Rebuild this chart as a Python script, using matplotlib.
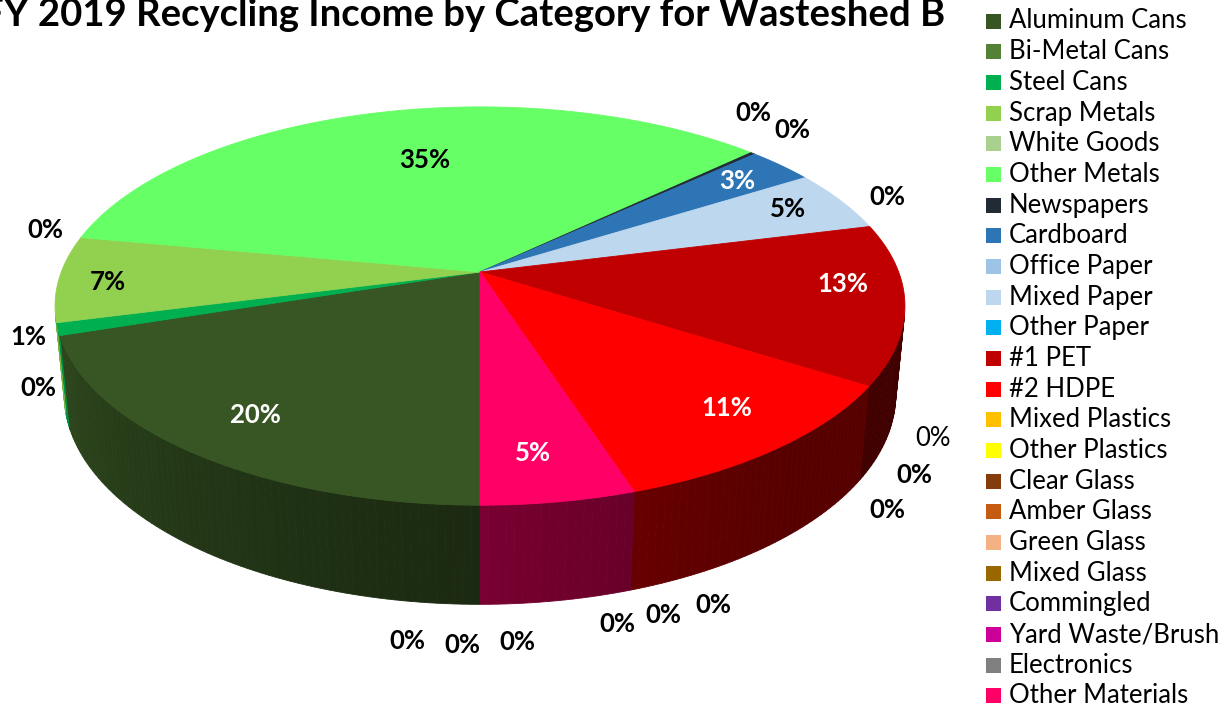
import numpy as np
import matplotlib
matplotlib.use('Agg')
import matplotlib.pyplot as plt
from matplotlib.patches import Polygon, Rectangle
from matplotlib.colors import to_rgb

plt.rcParams['font.family'] = ['Lato', 'DejaVu Sans']

titulo = 'FY 2019 Recycling Income by Category for Wasteshed B'

categorias = ['Aluminum Cans', 'Bi-Metal Cans', 'Steel Cans', 'Scrap Metals',
              'White Goods', 'Other Metals', 'Newspapers', 'Cardboard',
              'Office Paper', 'Mixed Paper', 'Other Paper', '#1 PET',
              '#2 HDPE', 'Mixed Plastics', 'Other Plastics', 'Clear Glass',
              'Amber Glass', 'Green Glass', 'Mixed Glass', 'Commingled',
              'Yard Waste/Brush', 'Electronics', 'Other Materials']

# porcentaje del ingreso por categoria
valores = [20, 0, 1, 7, 0, 35, 0.2, 3, 0, 5, 0, 13, 11,
           0, 0, 0, 0, 0, 0, 0, 0, 0, 5]

colores = ['#375623', '#548235', '#00B050', '#92D050', '#A9D08E', '#66FF66',
           '#222A35', '#2E75B6', '#9DC3E6', '#BDD7EE', '#00B0F0', '#C00000',
           '#FF0000', '#FFC000', '#FFFF00', '#843C0C', '#C55A11', '#F4B183',
           '#996600', '#7030A0', '#CC0099', '#808080', '#FF0066']

# posicion (px) de cada etiqueta y su color
pos_etiquetas = [(255, 415), (38, 388), (28, 337), (108, 282), (45, 230),
                 (425, 160), (753, 113), (737, 181), (792, 130), (788, 209),
                 (887, 197), (843, 284), (727, 408), (933, 439), (914, 475),
                 (887, 510), (713, 605), (663, 615), (617, 624), (517, 642),
                 (462, 645), (407, 641), (533, 453)]
etiqueta_blanca = {'Aluminum Cans', 'Cardboard', '#1 PET', '#2 HDPE', 'Other Materials'}
etiqueta_normal = {'Mixed Plastics'}

# camara de la vista 3D
CX, CY = 480, 272
F, L = 2173.0, 5.19
alfa = np.radians(27.5)
H = 0.2405


def proyectar(theta, h, r=1.0):
    t = np.radians(theta)
    u = r * np.sin(t)
    v = r * np.cos(t)
    yc = h * np.cos(alfa) + v * np.sin(alfa)
    zc = L + v * np.cos(alfa) - h * np.sin(alfa)
    return CX + F * u / zc, CY - F * yc / zc


def sombra(theta):
    # las caras laterales se oscurecen hacia la derecha
    theta = theta % 360
    s = max(0.0, (theta - 140) / 117.0)
    return 0.34 + 0.5 * s ** 1.2


fig = plt.figure(figsize=(12.25, 7.08), dpi=100)
ax = fig.add_axes([0, 0, 1, 1])
ax.set_xlim(0, 1225)
ax.set_ylim(708, 0)
ax.axis('off')

total = sum(valores)
angulos = 180 + 360 * np.concatenate([[0], np.cumsum(valores)]) / total
# tramo del borde que se ve de frente (dos vueltas porque los angulos pasan de 360)
visibles = [(102.0, 258.0), (462.0, 618.0)]

# caras laterales
for i, c in enumerate(colores):
    a0, a1 = angulos[i], angulos[i + 1]
    if a1 - a0 <= 0:
        continue
    base = np.array(to_rgb(c))
    for v0, v1 in visibles:
        lo, hi = max(a0, v0), min(a1, v1)
        if hi <= lo:
            continue
        n = max(2, int(np.ceil(hi - lo)) + 1)
        ts = np.linspace(lo, hi, n)
        for ta, tb in zip(ts[:-1], ts[1:]):
            xa, ya = proyectar(ta, 0)
            xb, yb = proyectar(tb, 0)
            xbb, ybb = proyectar(tb, -H)
            xab, yab = proyectar(ta, -H)
            col = base * sombra((ta + tb) / 2)
            ax.add_patch(Polygon([(xa, ya), (xb, yb), (xbb, ybb), (xab, yab)],
                                 closed=True, fc=col, ec=col, lw=0.6))

# cara superior
for i, c in enumerate(colores):
    a0, a1 = angulos[i], angulos[i + 1]
    if a1 - a0 <= 0:
        continue
    ts = np.linspace(a0, a1, max(2, int((a1 - a0) * 2) + 1))
    xs, ys = proyectar(ts, 0)
    pts = [(CX, CY)] + list(zip(xs, ys))
    ax.add_patch(Polygon(pts, closed=True, fc=c, ec=c, lw=0.6))

# etiquetas de porcentaje
for i, nombre in enumerate(categorias):
    pct = '{:.0f}%'.format(100 * valores[i] / total)
    x, y = pos_etiquetas[i]
    ax.text(x, y, pct, ha='center', va='center', fontsize=18.5,
            color='white' if nombre in etiqueta_blanca else 'black',
            fontweight='normal' if nombre in etiqueta_normal else 'bold')

# titulo
ax.text(945, 26, titulo, ha='right', va='baseline', fontsize=27.5,
        fontweight='bold', color='black')

# leyenda
for i, (nombre, c) in enumerate(zip(categorias, colores)):
    yc = 21 + i * 30.68
    ax.add_patch(Rectangle((986, yc - 7.5), 15, 15, fc=c, ec='none'))
    ax.text(1009, yc, nombre, ha='left', va='center', fontsize=18.5, color='black')

fig.savefig('out.png', dpi=100)
